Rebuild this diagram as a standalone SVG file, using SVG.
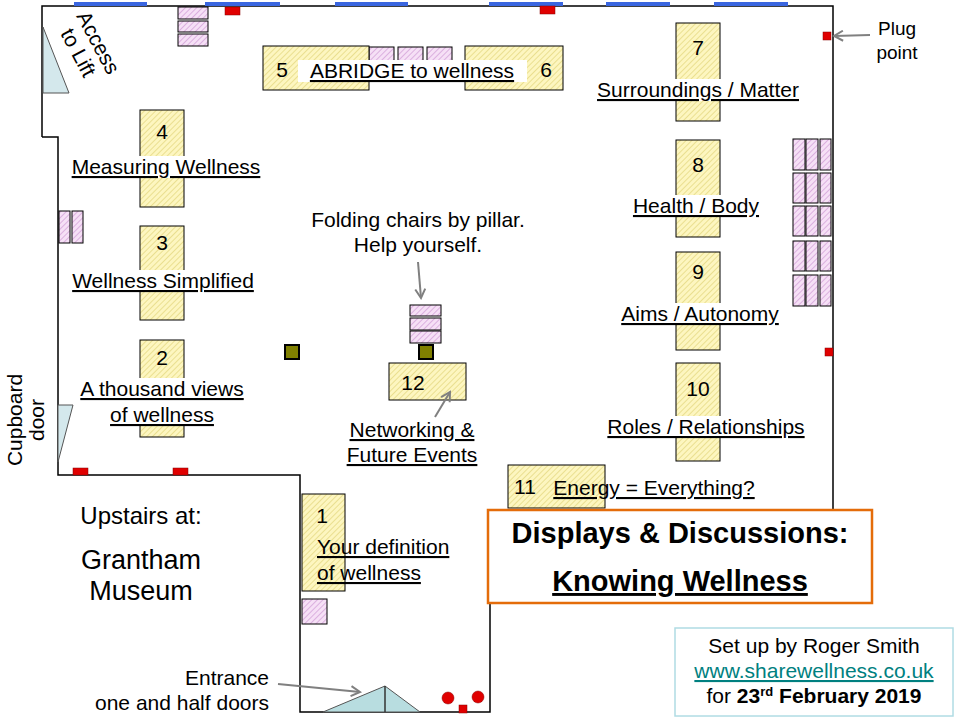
<svg xmlns="http://www.w3.org/2000/svg" width="960" height="720" viewBox="0 0 960 720">
<style>
text{font-family:"Liberation Sans",Arial,sans-serif;font-size:21px;fill:#000}
.t{fill:url(#yh);stroke:#000;stroke-width:1}
.c{fill:url(#ph);stroke:#000;stroke-width:1}
.w{fill:none;stroke:#000;stroke-width:1.5}
.win{stroke:#3a66e0;stroke-width:4}
.plug{fill:#e00000;stroke:#800;stroke-width:0.5}
.pil{fill:#808000;stroke:#000;stroke-width:2}
.bg{fill:#fff}
.u{text-decoration:underline}
.arr{stroke:#808080;stroke-width:2;fill:none;marker-end:url(#ah)}
</style>
<defs>
<pattern id="yh" width="4" height="4" patternUnits="userSpaceOnUse" patternTransform="rotate(45)"><rect width="4" height="4" fill="#fdf6c0"/><line x1="0" y1="0" x2="0" y2="4" stroke="#d8c860" stroke-width="1"/></pattern>
<pattern id="ph" width="4" height="4" patternUnits="userSpaceOnUse" patternTransform="rotate(45)"><rect width="4" height="4" fill="#f6e0f6"/><line x1="0" y1="0" x2="0" y2="4" stroke="#c080c8" stroke-width="1"/></pattern>
<marker id="ah" markerWidth="12" markerHeight="12" refX="10" refY="6" orient="auto" markerUnits="userSpaceOnUse"><path d="M1,1 L10,6 L1,11" fill="none" stroke="#808080" stroke-width="2"/></marker>
</defs>
<rect width="960" height="720" fill="#fff"/>
<g id="walls">
<polyline class="w" points="42,137 42,6 833,6 833,510"/>
<polyline class="w" points="42,137 58,137 58,475 300,475 300,712 490,712 490,600"/>
<line class="win" x1="74" y1="4" x2="147" y2="4"/><line class="win" x1="205" y1="4" x2="280" y2="4"/><line class="win" x1="335" y1="4" x2="408" y2="4"/><line class="win" x1="489" y1="4" x2="563" y2="4"/><line class="win" x1="606" y1="4" x2="670" y2="4"/><line class="win" x1="714" y1="4" x2="788" y2="4"/>
<polygon points="43,27 43,93 69,93" fill="#d4e8ec" stroke="#555" stroke-width="1"/>
<polygon points="58,405 73,405 58,462" fill="#d4e8ec" stroke="#555" stroke-width="1"/>
<polygon points="323,712 385,686 420,712" fill="#b8dde0" stroke="#555" stroke-width="1"/>
<line x1="385" y1="686" x2="385" y2="712" stroke="#333" stroke-width="1.5"/>
</g>
<g id="plugs">
<rect class="plug" x="225" y="7" width="15" height="8"/><rect class="plug" x="540" y="6" width="15" height="8"/>
<rect class="plug" x="823" y="32" width="8" height="8"/><rect class="plug" x="825" y="348" width="8" height="8"/>
<rect class="plug" x="73" y="468" width="15" height="7"/><rect class="plug" x="173" y="468" width="15" height="7"/>
<circle class="plug" cx="448" cy="698" r="6"/><circle class="plug" cx="478" cy="697" r="6"/><rect class="plug" x="459" y="705" width="8" height="8"/>
</g>
<g id="chairs">
<rect class="c" x="178" y="7" width="30" height="12"/><rect class="c" x="178" y="21" width="30" height="11"/><rect class="c" x="178" y="34" width="30" height="12"/>
<rect class="c" x="369" y="47" width="25" height="14"/><rect class="c" x="398" y="47" width="25" height="14"/><rect class="c" x="427" y="47" width="25" height="14"/>
<rect class="c" x="59" y="211" width="11" height="32"/><rect class="c" x="72" y="211" width="11" height="32"/>
<g id="rightchairs">
<rect class="c" x="793" y="139" width="12" height="31"/><rect class="c" x="806" y="139" width="12" height="31"/><rect class="c" x="820" y="139" width="11" height="31"/>
<rect class="c" x="793" y="173" width="12" height="30"/><rect class="c" x="806" y="173" width="12" height="30"/><rect class="c" x="820" y="173" width="11" height="30"/>
<rect class="c" x="793" y="206" width="12" height="30"/><rect class="c" x="806" y="206" width="12" height="30"/><rect class="c" x="820" y="206" width="11" height="30"/>
<rect class="c" x="793" y="241" width="12" height="30"/><rect class="c" x="806" y="241" width="12" height="30"/><rect class="c" x="820" y="241" width="11" height="30"/>
<rect class="c" x="793" y="275" width="12" height="31"/><rect class="c" x="806" y="275" width="12" height="31"/><rect class="c" x="820" y="275" width="11" height="31"/>
</g>
<rect class="c" x="410" y="305" width="31" height="11"/><rect class="c" x="410" y="318" width="31" height="12"/><rect class="c" x="410" y="331" width="31" height="12"/>
<rect class="c" x="302" y="599" width="25" height="25"/>
</g>
<g id="pillars"><rect class="pil" x="285" y="345" width="14" height="14"/><rect class="pil" x="419" y="345" width="14" height="14"/></g>
<g id="n4"><rect class="t" x="140" y="110" width="44" height="97"/><text x="162" y="139" text-anchor="middle">4</text><rect class="bg" x="67" y="156" width="198" height="22"/><text class="u" x="166" y="174" text-anchor="middle">Measuring Wellness</text></g>
<g id="n3"><rect class="t" x="140" y="226" width="44" height="94"/><text x="162" y="250" text-anchor="middle">3</text><rect class="bg" x="68" y="270" width="190" height="22"/><text class="u" x="163" y="288" text-anchor="middle">Wellness Simplified</text></g>
<g id="n2"><rect class="t" x="140" y="340" width="44" height="97"/><text x="162" y="365" text-anchor="middle">2</text><rect class="bg" x="76" y="378" width="173" height="48"/><text class="u" x="162" y="396" text-anchor="middle">A thousand views</text><text class="u" x="162" y="422" text-anchor="middle">of wellness</text></g>
<g id="n56"><rect class="t" x="263" y="46" width="106" height="44"/><rect class="t" x="465" y="46" width="98" height="44"/><text x="282" y="77" text-anchor="middle">5</text><text x="546" y="77" text-anchor="middle">6</text><rect class="bg" x="298" y="60" width="229" height="22"/><text class="u" x="412" y="78" text-anchor="middle">ABRIDGE to wellness</text></g>
<g id="n7"><rect class="t" x="676" y="23" width="44" height="98"/><text x="698" y="55" text-anchor="middle">7</text><rect class="bg" x="594" y="79" width="210" height="22"/><text class="u" x="698" y="97" text-anchor="middle">Surroundings / Matter</text></g>
<g id="n8"><rect class="t" x="676" y="140" width="44" height="97"/><text x="698" y="172" text-anchor="middle">8</text><rect class="bg" x="628" y="195" width="136" height="22"/><text class="u" x="696" y="213" text-anchor="middle">Health / Body</text></g>
<g id="n9"><rect class="t" x="676" y="252" width="44" height="98"/><text x="698" y="279" text-anchor="middle">9</text><rect class="bg" x="617" y="303" width="167" height="22"/><text class="u" x="700" y="321" text-anchor="middle">Aims / Autonomy</text></g>
<g id="n10"><rect class="t" x="676" y="363" width="44" height="98"/><text x="698" y="396" text-anchor="middle">10</text><rect class="bg" x="604" y="416" width="206" height="22"/><text class="u" x="706" y="434" text-anchor="middle">Roles / Relationships</text></g>
<g id="n11"><rect class="t" x="508" y="465" width="97" height="43"/><text x="525" y="494" text-anchor="middle">11</text><text class="u" x="654" y="495" text-anchor="middle">Energy = Everything?</text></g>
<g id="n12"><rect class="t" x="389" y="363" width="77" height="37"/><text x="413" y="390" text-anchor="middle">12</text></g>
<g id="n1"><rect class="t" x="302" y="494" width="43" height="97"/><text x="322" y="523" text-anchor="middle">1</text><text class="u" x="317" y="554">Your definition</text><text class="u" x="317" y="580">of wellness</text></g>
<g id="labels">
<text x="92" y="46" transform="rotate(62 92 46)" text-anchor="middle">Access</text>
<text x="72" y="56" transform="rotate(62 72 56)" text-anchor="middle">to Lift</text>
<text x="22" y="420" transform="rotate(-90 22 420)" text-anchor="middle">Cupboard</text>
<text x="44" y="420" transform="rotate(-90 44 420)" text-anchor="middle">door</text>
<text x="897" y="35" text-anchor="middle" style="font-size:19px">Plug</text>
<text x="897" y="59" text-anchor="middle" style="font-size:19px">point</text>
<text x="418" y="227" text-anchor="middle">Folding chairs by pillar.</text>
<text x="418" y="252" text-anchor="middle">Help yourself.</text>
<text class="u" x="412" y="437" text-anchor="middle">Networking &amp;</text>
<text class="u" x="412" y="462" text-anchor="middle">Future Events</text>
<text x="141" y="524" text-anchor="middle" style="font-size:24px">Upstairs at:</text>
<text x="141" y="569" text-anchor="middle" style="font-size:27px">Grantham</text>
<text x="141" y="600" text-anchor="middle" style="font-size:27px">Museum</text>
<text x="227" y="685" text-anchor="middle">Entrance</text>
<text x="182" y="710" text-anchor="middle">one and half doors</text>
</g>
<g id="title"><rect x="488" y="510" width="384" height="93" fill="#fff" stroke="#e46c0a" stroke-width="2.5"/>
<text x="680" y="543" text-anchor="middle" style="font-size:29px;font-weight:bold">Displays &amp; Discussions:</text>
<text class="u" x="680" y="591" text-anchor="middle" style="font-size:29px;font-weight:bold">Knowing Wellness</text></g>
<g id="credit"><rect x="675" y="628" width="278" height="88" fill="#fff" stroke="#b0dce4" stroke-width="1.5"/>
<text x="814" y="653" text-anchor="middle">Set up by Roger Smith</text>
<text class="u" x="814" y="678" text-anchor="middle" style="fill:#008080">www.sharewellness.co.uk</text>
<text x="814" y="703" text-anchor="middle">for <tspan font-weight="bold">23<tspan style="font-size:13px" dy="-7">rd</tspan><tspan dy="7"> February 2019</tspan></tspan></text></g>
<g id="connectors">
<line class="arr" x1="870" y1="35" x2="834" y2="36"/>
<line class="arr" x1="418" y1="262" x2="421" y2="298"/>
<line class="arr" x1="435" y1="417" x2="450" y2="392"/>
<line class="arr" x1="278" y1="684" x2="360" y2="692"/>
</g>
</svg>
